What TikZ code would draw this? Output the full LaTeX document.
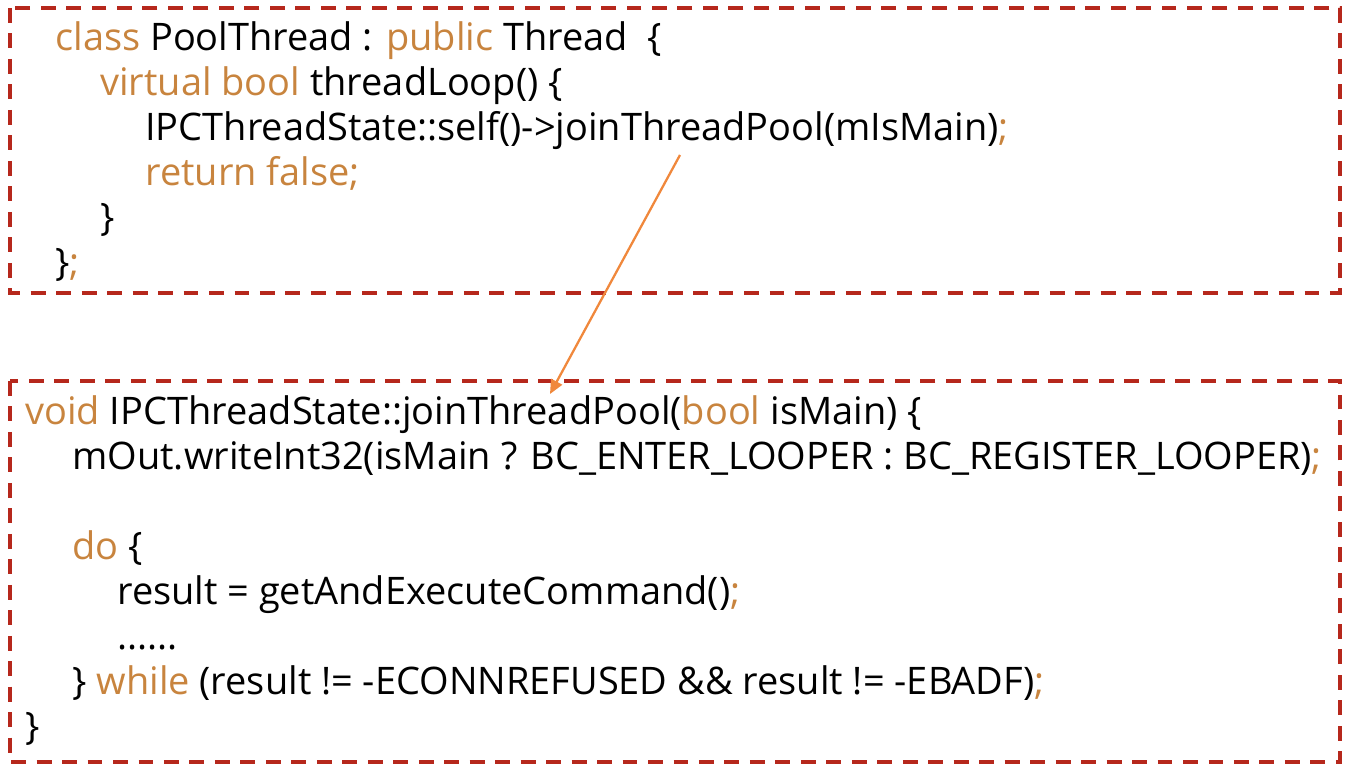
\documentclass[tikz,border=0pt]{standalone}
\usepackage{fontspec}
\setmainfont{Open Sans}
\usetikzlibrary{arrows.meta}
\definecolor{kwcolor}{RGB}{200,132,62}
\definecolor{boxred}{RGB}{182,40,28}
\definecolor{arrorange}{RGB}{240,136,60}
\newcommand{\kw}[1]{\textcolor{kwcolor}{#1}}
\tikzset{
  codebox/.style={draw=boxred,line width=2.3pt,dash pattern=on 8.5pt off 6pt},
  codeline/.style={anchor=base west,inner sep=0pt,font=\fontsize{21.6}{26}\selectfont},
  callarrow/.style={draw=arrorange,line width=1.3pt,-{Triangle[length=8pt,width=7pt]}}
}
\begin{document}
\begin{tikzpicture}[x=0.02cm,y=-0.02cm]
\useasboundingbox (0,0) rectangle (1360,771);
\draw[codebox] (10,8) rectangle (1340,293);
\draw[codebox] (10,381) rectangle (1340,762);
% PoolThread
\node[codeline] (t1) at (55,50) {\kw{class} PoolThread : \kw{public} Thread~~\{};
\node[codeline] (t2) at (100,95) {\kw{virtual bool} threadLoop() \{};
\node[codeline] (t3) at (145,140) {IPCThreadState::self()->joinThreadPool(mIsMain)\kw{;}};
\node[codeline] (t4) at (145,185) {\kw{return false;}};
\node[codeline] (t5) at (100,230) {\}};
\node[codeline] (t6) at (55,275) {\}\kw{;}};
% joinThreadPool
\node[codeline] (j1) at (25,424) {\kw{void} IPCThreadState::joinThreadPool(\kw{bool} isMain) \{};
\node[codeline] (j2) at (72,469) {mOut.writeInt32(isMain ? BC\_ENTER\_LOOPER : BC\_REGISTER\_LOOPER)\kw{;}};
\node[codeline] (j3) at (72,559) {\kw{do} \{};
\node[codeline] (j4) at (117,604) {result = getAndExecuteCommand()\kw{;}};
\node[codeline] (j5) at (117,649) {......};
\node[codeline] (j6) at (72,694) {\} \kw{while} (result != -ECONNREFUSED \&\& result != -EBADF)\kw{;}};
\node[codeline] (j7) at (25,739) {\}};
\coordinate (callfrom) at (680,155);
\coordinate (callto) at (550,394);
\draw[callarrow] (callfrom) -- (callto);
\end{tikzpicture}
\end{document}
